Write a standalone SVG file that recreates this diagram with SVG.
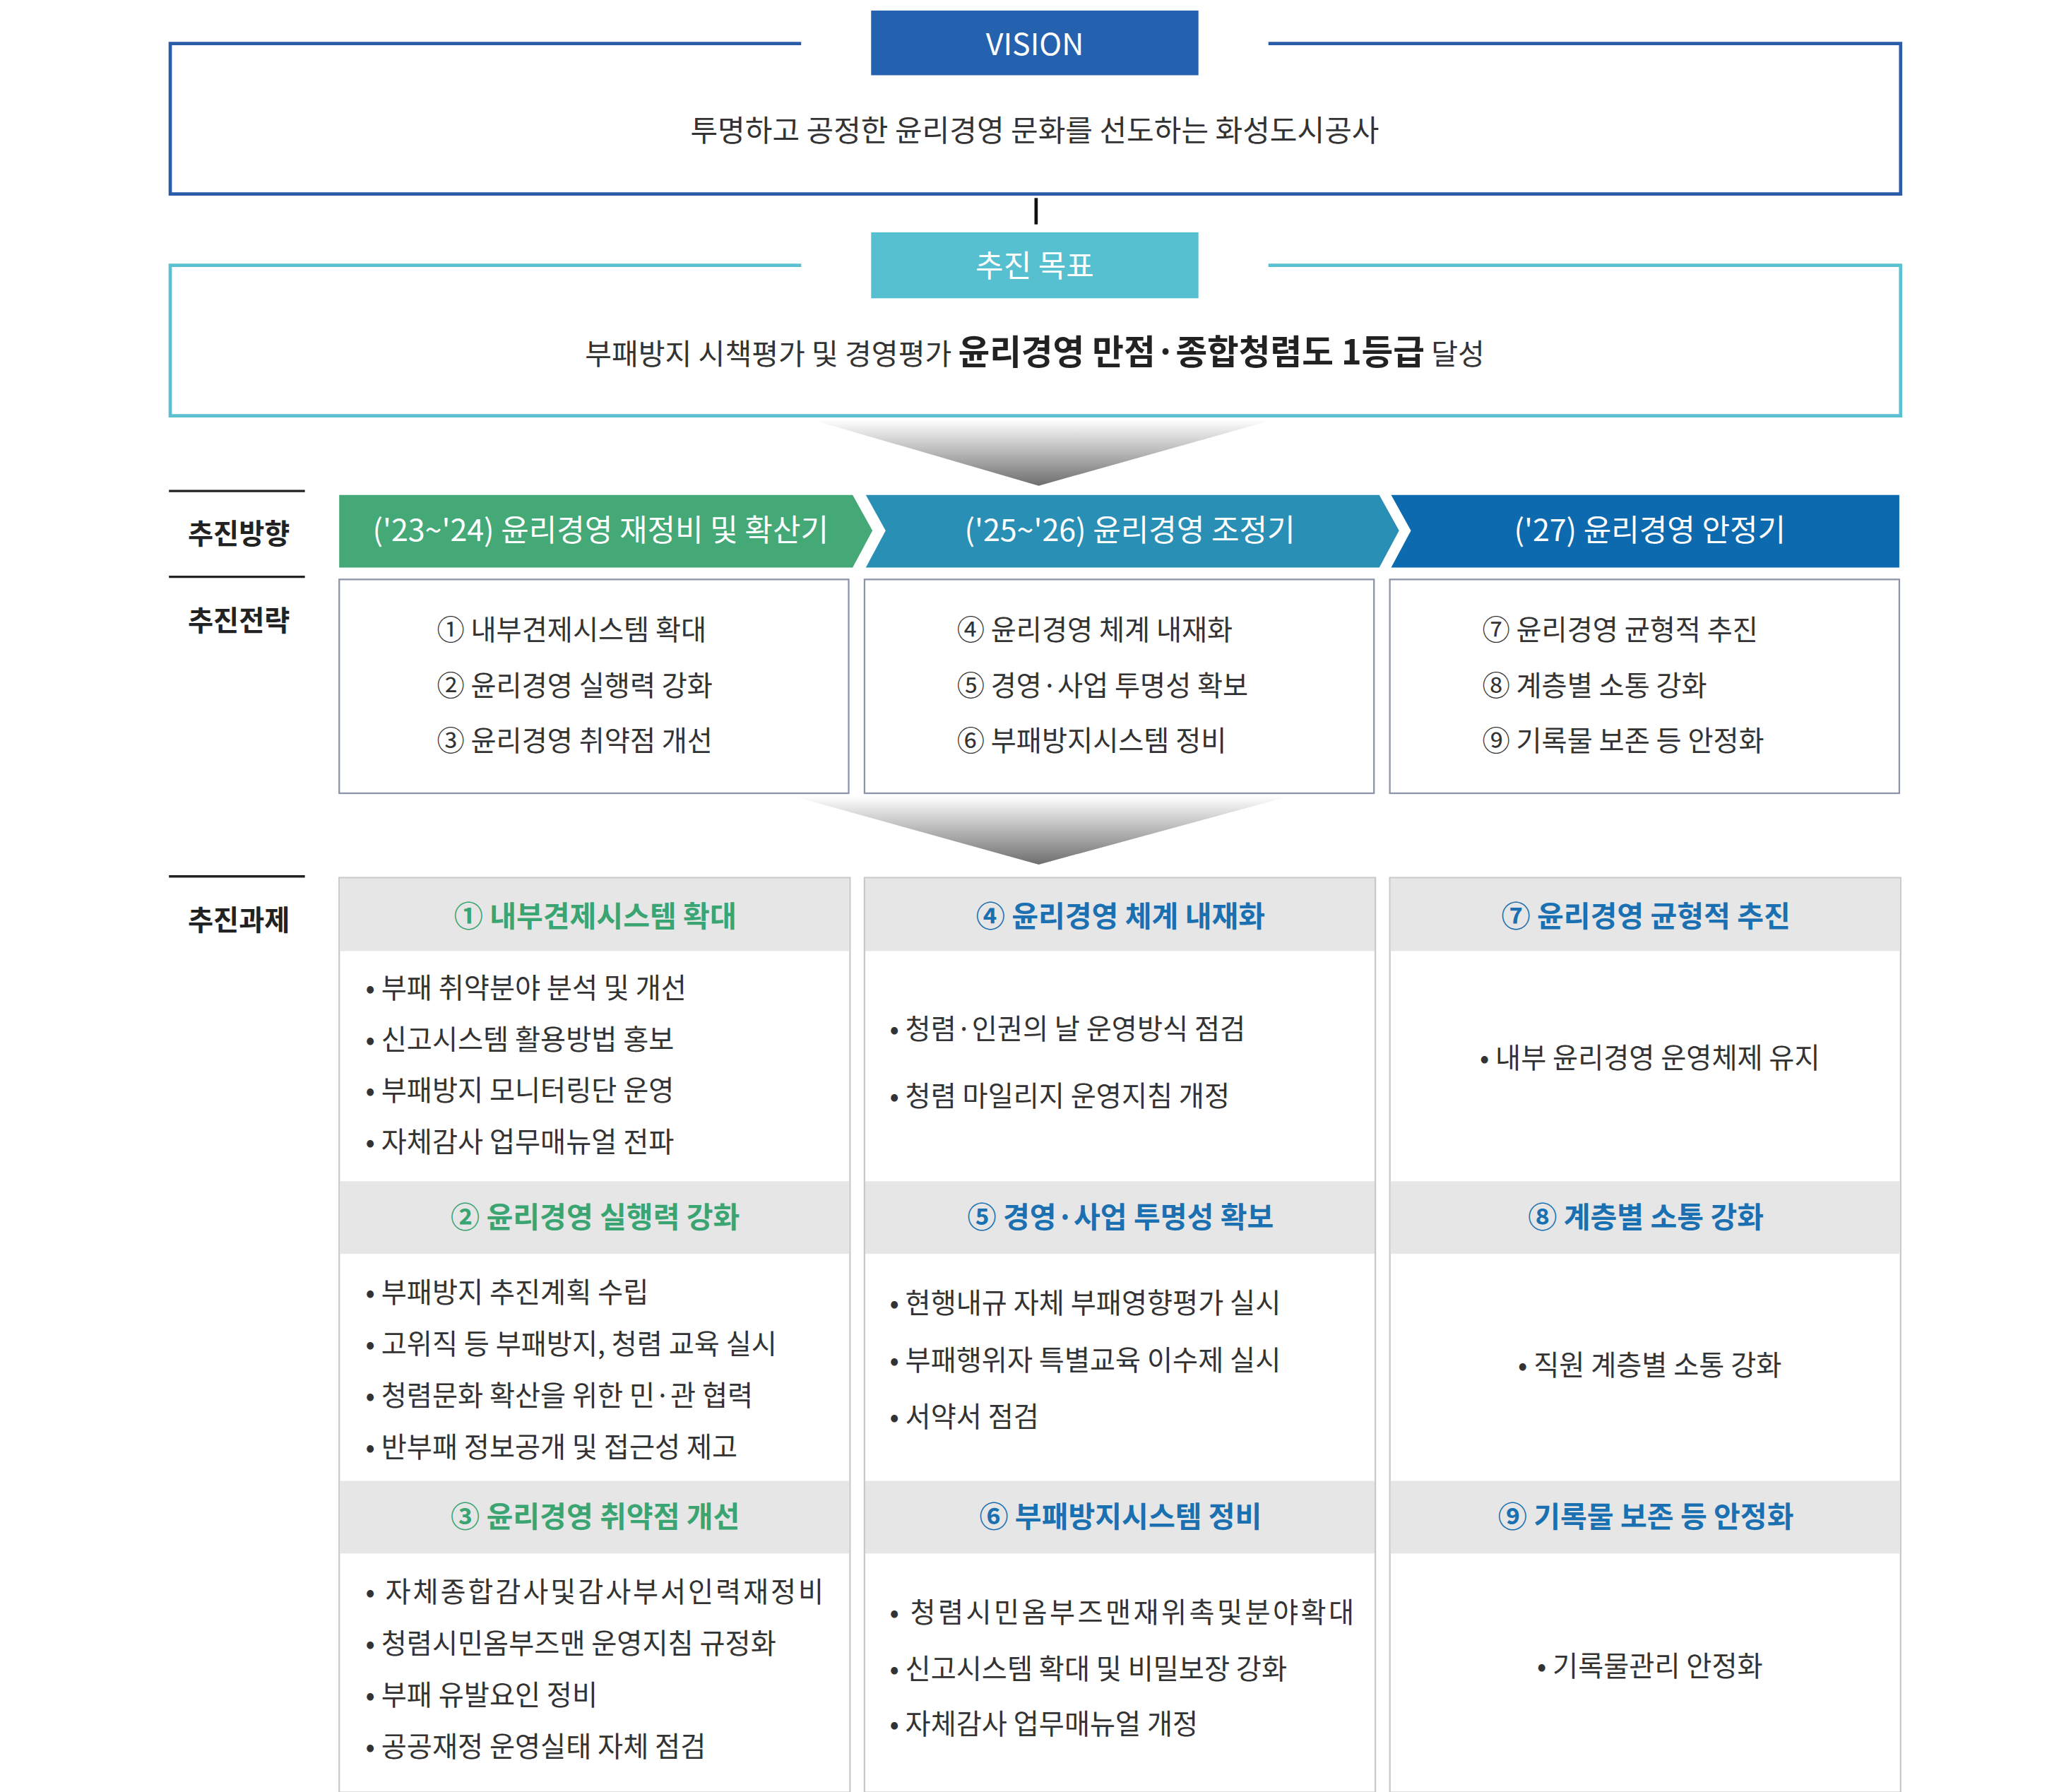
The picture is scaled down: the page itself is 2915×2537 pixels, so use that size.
<svg xmlns="http://www.w3.org/2000/svg" width="2915" height="2537" viewBox="0 0 2915 2537">
<defs>
<linearGradient id="fun" x1="0" y1="0" x2="0" y2="1"><stop offset="0" stop-color="#ffffff"/><stop offset="1" stop-color="#6e6e6e"/></linearGradient>
<style>
text{font-family:"Noto Sans CJK KR","Noto Sans",sans-serif;}
.w{fill:#fff;font-size:23px;text-anchor:middle}
.t{fill:#333;font-size:21px}
.tc{fill:#333;font-size:21px;text-anchor:middle}
.lab{fill:#222;font-size:21px;font-weight:bold;text-anchor:middle}
.hg{fill:#3aa572;font-size:22px;font-weight:bold;text-anchor:middle}
.hb{fill:#1a70b0;font-size:22px;font-weight:bold;text-anchor:middle}
.col{fill:#fff;stroke:#c8c8c8;stroke-width:1.2}
.hd{fill:#e6e6e6}
.sb{fill:#fff;stroke:#8a93a8;stroke-width:1.2}
.ln{stroke:#222;stroke-width:1.8}
</style>
</defs>
<rect width="2915" height="2537" fill="#fff"/>
<g transform="scale(1.8686)">
<g id="vision">
<path d="M607,33 H129 V147 H1440 V33 H961" fill="none" stroke="#2a5caa" stroke-width="2.5"/>
<rect x="660" y="8" width="248" height="49" fill="#2461ae"/>
<text class="w" x="784" y="42">VISION</text>
<text x="784" y="107" style="fill:#333;font-size:22.5px;text-anchor:middle">투명하고 공정한 윤리경영 문화를 선도하는 화성도시공사</text>
</g>
<g id="connectors">
<line x1="785" y1="150" x2="785" y2="170" stroke="#111" stroke-width="2.5"/>
<polygon points="615,318 965,318 787,368" fill="url(#fun)"/>
<polygon points="600,603 978,603 787,655" fill="url(#fun)"/>
</g>
<g id="goal">
<path d="M607,201 H129 V315 H1440 V201 H961" fill="none" stroke="#5bc0d0" stroke-width="2.5"/>
<rect x="660" y="176" width="248" height="50" fill="#56bfd0"/>
<text class="w" x="784" y="210">추진 목표</text>
<text x="784" y="276" style="fill:#333;font-size:22px;text-anchor:middle">부패방지 시책평가 및 경영평가 <tspan style="font-weight:bold;font-size:26px;fill:#222">윤리경영 만점·종합청렴도 1등급</tspan> 달성</text>
</g>
<g id="labels">
<line class="ln" x1="128" y1="372" x2="231" y2="372"/>
<line class="ln" x1="128" y1="437" x2="231" y2="437"/>
<line class="ln" x1="128" y1="664" x2="231" y2="664"/>
<text class="lab" x="181" y="412">추진방향</text>
<text class="lab" x="181" y="478">추진전략</text>
<text class="lab" x="181" y="705">추진과제</text>
</g>
<g id="phases">
<polygon points="257,375 646,375 661,402 646,430 257,430" fill="#44a877"/>
<polygon points="656,375 1045,375 1060,402 1045,430 656,430 671,402" fill="#2a8fb5"/>
<polygon points="1054,375 1439,375 1439,430 1054,430 1069,402" fill="#0e6aae"/>
<text class="w" x="455" y="410">('23~'24) 윤리경영 재정비 및 확산기</text>
<text class="w" x="856" y="410">('25~'26) 윤리경영 조정기</text>
<text class="w" x="1250" y="410">('27) 윤리경영 안정기</text>
</g>
<g id="strategies">
<rect class="sb" x="257" y="439" width="386" height="162"/>
<rect class="sb" x="655" y="439" width="386" height="162"/>
<rect class="sb" x="1053" y="439" width="386" height="162"/>
<text class="t" x="331" y="485">① 내부견제시스템 확대</text>
<text class="t" x="331" y="527">② 윤리경영 실행력 강화</text>
<text class="t" x="331" y="569">③ 윤리경영 취약점 개선</text>
<text class="t" x="725" y="485">④ 윤리경영 체계 내재화</text>
<text class="t" x="725" y="527">⑤ 경영·사업 투명성 확보</text>
<text class="t" x="725" y="569">⑥ 부패방지시스템 정비</text>
<text class="t" x="1123" y="485">⑦ 윤리경영 균형적 추진</text>
<text class="t" x="1123" y="527">⑧ 계층별 소통 강화</text>
<text class="t" x="1123" y="569">⑨ 기록물 보존 등 안정화</text>
</g>
<g id="tasks1">
<rect class="col" x="257" y="665" width="387" height="693"/>
<rect class="hd" x="257.6" y="665.6" width="385.8" height="55"/>
<rect class="hd" x="257.6" y="895" width="385.8" height="55"/>
<rect class="hd" x="257.6" y="1122" width="385.8" height="55"/>
<text class="hg" x="451" y="702">① 내부견제시스템 확대</text>
<text class="hg" x="451" y="930">② 윤리경영 실행력 강화</text>
<text class="hg" x="451" y="1157">③ 윤리경영 취약점 개선</text>
<text class="t" x="277" y="756">• 부패 취약분야 분석 및 개선</text>
<text class="t" x="277" y="795">• 신고시스템 활용방법 홍보</text>
<text class="t" x="277" y="834">• 부패방지 모니터링단 운영</text>
<text class="t" x="277" y="873">• 자체감사 업무매뉴얼 전파</text>
<text class="t" x="277" y="987">• 부패방지 추진계획 수립</text>
<text class="t" x="277" y="1026">• 고위직 등 부패방지, 청렴 교육 실시</text>
<text class="t" x="277" y="1065">• 청렴문화 확산을 위한 민·관 협력</text>
<text class="t" x="277" y="1104">• 반부패 정보공개 및 접근성 제고</text>
<text class="t" x="277" y="1214" textLength="347">• 자체종합감사및감사부서인력재정비</text>
<text class="t" x="277" y="1253">• 청렴시민옴부즈맨 운영지침 규정화</text>
<text class="t" x="277" y="1292">• 부패 유발요인 정비</text>
<text class="t" x="277" y="1331">• 공공재정 운영실태 자체 점검</text>
</g>
<g id="tasks2">
<rect class="col" x="655" y="665" width="387" height="693"/>
<rect class="hd" x="655.6" y="665.6" width="385.8" height="55"/>
<rect class="hd" x="655.6" y="895" width="385.8" height="55"/>
<rect class="hd" x="655.6" y="1122" width="385.8" height="55"/>
<text class="hb" x="849" y="702">④ 윤리경영 체계 내재화</text>
<text class="hb" x="849" y="930">⑤ 경영·사업 투명성 확보</text>
<text class="hb" x="849" y="1157">⑥ 부패방지시스템 정비</text>
<text class="t" x="674" y="787">• 청렴·인권의 날 운영방식 점검</text>
<text class="t" x="674" y="838">• 청렴 마일리지 운영지침 개정</text>
<text class="t" x="674" y="995">• 현행내규 자체 부패영향평가 실시</text>
<text class="t" x="674" y="1038">• 부패행위자 특별교육 이수제 실시</text>
<text class="t" x="674" y="1081">• 서약서 점검</text>
<text class="t" x="674" y="1229" textLength="352">• 청렴시민옴부즈맨재위촉및분야확대</text>
<text class="t" x="674" y="1272">• 신고시스템 확대 및 비밀보장 강화</text>
<text class="t" x="674" y="1314">• 자체감사 업무매뉴얼 개정</text>
</g>
<g id="tasks3">
<rect class="col" x="1053" y="665" width="387" height="693"/>
<rect class="hd" x="1053.6" y="665.6" width="385.8" height="55"/>
<rect class="hd" x="1053.6" y="895" width="385.8" height="55"/>
<rect class="hd" x="1053.6" y="1122" width="385.8" height="55"/>
<text class="hb" x="1247" y="702">⑦ 윤리경영 균형적 추진</text>
<text class="hb" x="1247" y="930">⑧ 계층별 소통 강화</text>
<text class="hb" x="1247" y="1157">⑨ 기록물 보존 등 안정화</text>
<text class="tc" x="1250" y="809">• 내부 윤리경영 운영체제 유지</text>
<text class="tc" x="1250" y="1042">• 직원 계층별 소통 강화</text>
<text class="tc" x="1250" y="1270">• 기록물관리 안정화</text>
</g>
</g>
</svg>
